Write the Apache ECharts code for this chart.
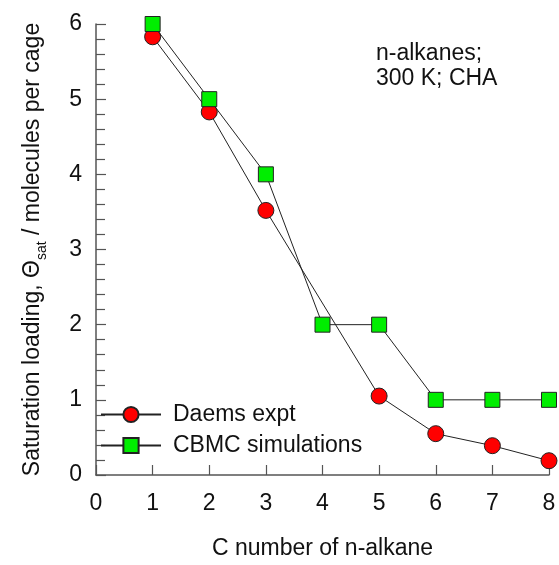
<!DOCTYPE html>
<html>
<head>
<meta charset="utf-8">
<script src="https://cdn.jsdelivr.net/npm/echarts@6/dist/echarts.min.js"></script>
<style>
  html, body { margin: 0; padding: 0; background: #fff; }
  #chart { width: 559px; height: 565px; }
</style>
</head>
<body>
<div id="chart"></div>
<script>
// Carbon number of the n-alkane
const carbonNumbers = [1, 2, 3, 4, 5, 6, 7, 8];
// Experimental saturation loadings (Daems), no C4 point
const daemsExpt = [[1, 5.83], [2, 4.83], [3, 3.52], [5, 1.05], [6, 0.55], [7, 0.39], [8, 0.19]];
// CBMC simulated saturation loadings
const cbmcSim = [6, 5, 4, 2, 2, 1, 1, 1];

const FONT = '"Liberation Sans", Arial, sans-serif';
const FS = 23;
const chart = echarts.init(document.getElementById('chart'), null, { renderer: 'canvas' });

chart.setOption({
  animation: false,
  backgroundColor: '#fff',
  grid: { left: 96, right: 10, top: 24, bottom: 88, containLabel: false },
  xAxis: {
    type: 'value', min: 0, max: 8, interval: 1,
    name: 'C number of n-alkane', nameLocation: 'middle', nameGap: 62,
    nameTextStyle: { fontFamily: FONT, fontSize: FS, color: '#111' },
    axisLine: { lineStyle: { color: '#555', width: 1.5 } },
    axisTick: { inside: true, length: 10, lineStyle: { color: '#555', width: 1.2 } },
    axisLabel: { fontFamily: FONT, fontSize: FS, color: '#111', margin: 17 },
    splitLine: { show: false }
  },
  yAxis: {
    type: 'value', min: 0, max: 6, interval: 1,
    name: '{n|Saturation loading, Θ}{s|sat}{n| / molecules per cage}',
    nameLocation: 'middle', nameGap: 52,
    nameTextStyle: {
      rich: {
        n: { fontFamily: FONT, fontSize: FS, color: '#111' },
        s: { fontFamily: FONT, fontSize: 14, color: '#111', verticalAlign: 'bottom', padding: [0, 0, -5, 0] }
      }
    },
    axisLine: { show: true, lineStyle: { color: '#555', width: 1.5 } },
    axisTick: { inside: true, length: 10, lineStyle: { color: '#555', width: 1.2 } },
    minorTick: { show: true, splitNumber: 5, length: 9, lineStyle: { color: '#555', width: 1.2 } },
    axisLabel: { fontFamily: FONT, fontSize: FS, color: '#111', margin: 14 },
    splitLine: { show: false }
  },
  legend: {
    orient: 'vertical', left: 100, top: 403, padding: 0,
    itemWidth: 60, itemHeight: 19, itemGap: 8,
    textStyle: { fontFamily: FONT, fontSize: FS, color: '#111', padding: [0, 0, 0, 7] },
    data: ['Daems expt', 'CBMC simulations']
  },
  graphic: [{
    type: 'text', left: 376, top: 41,
    style: { text: 'n-alkanes;\n300 K; CHA', fontFamily: FONT, fontSize: FS, lineHeight: 25, fill: '#111' }
  }],
  series: [
    {
      name: 'Daems expt', type: 'line', data: daemsExpt,
      symbol: 'circle', symbolSize: 16,
      lineStyle: { color: '#222', width: 1 },
      itemStyle: { color: '#ff0000', borderColor: '#222', borderWidth: 1 },
      z: 2
    },
    {
      name: 'CBMC simulations', type: 'line',
      data: carbonNumbers.map((c, i) => [c, cbmcSim[i]]),
      symbol: 'rect', symbolSize: 15,
      lineStyle: { color: '#222', width: 1 },
      itemStyle: { color: '#00ee00', borderColor: '#222', borderWidth: 1 },
      z: 3
    }
  ]
});
</script>
</body>
</html>
